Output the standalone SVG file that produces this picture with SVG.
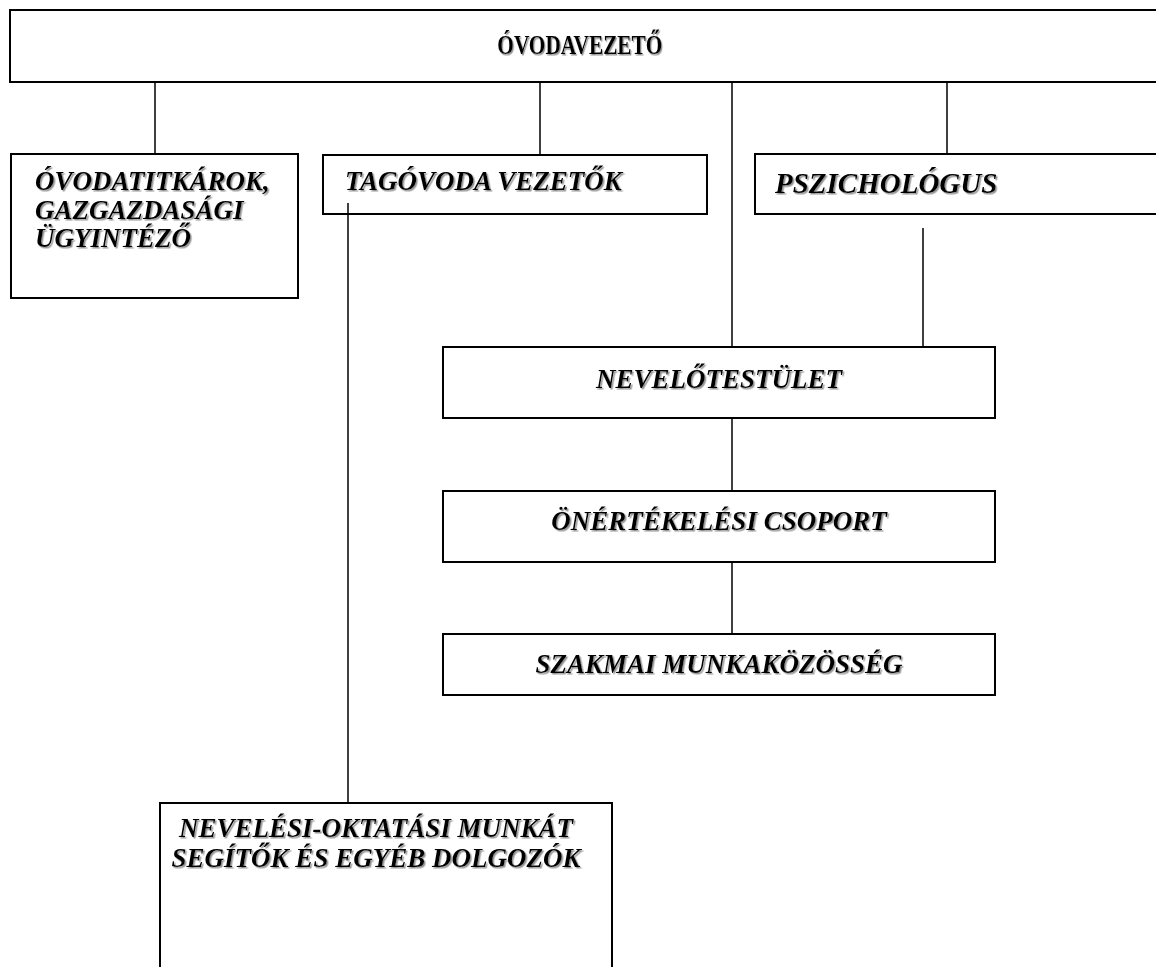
<svg xmlns="http://www.w3.org/2000/svg" width="1156" height="967" viewBox="0 0 1156 967">
<defs>
<filter id="sh" x="-5%" y="-20%" width="110%" height="150%">
<feDropShadow dx="1.5" dy="1.5" stdDeviation="0.6" flood-color="#888" flood-opacity="0.9"/>
</filter>
<style>
.box{fill:#fff;stroke:#000;stroke-width:2}
.ln{stroke:#000;stroke-width:1.5;fill:none}
.t{font-family:"Liberation Serif","Times New Roman",serif;font-weight:bold;font-style:italic;font-size:27px;fill:#000;filter:url(#sh)}
.c{text-anchor:middle}
</style>
</defs>
<rect width="1156" height="967" fill="#fff"/>
<g id="connectors">
<line class="ln" x1="155" y1="82" x2="155" y2="154"/>
<line class="ln" x1="540" y1="82" x2="540" y2="155"/>
<line class="ln" x1="732" y1="82" x2="732" y2="347"/>
<line class="ln" x1="947" y1="82" x2="947" y2="154"/>
<line class="ln" x1="348" y1="203" x2="348" y2="803"/>
<line class="ln" x1="923" y1="228" x2="923" y2="347"/>
<line class="ln" x1="732" y1="418" x2="732" y2="491"/>
<line class="ln" x1="732" y1="562" x2="732" y2="634"/>
</g>
<g id="ovodavezeto">
<rect class="box" x="10" y="10" width="1160" height="72"/>
<text class="t c" x="734" y="54" style="font-style:normal;font-size:27px" transform="scale(0.79,1)">ÓVODAVEZETŐ</text>
</g>
<g id="ovodatitkarok">
<rect class="box" x="11" y="154" width="287" height="144"/>
<text class="t" x="35" y="190">ÓVODATITKÁROK,</text>
<text class="t" x="35" y="219">GAZGAZDASÁGI</text>
<text class="t" x="35" y="247">ÜGYINTÉZŐ</text>
</g>
<g id="tagovoda">
<rect class="box" x="323" y="155" width="384" height="59"/>
<text class="t" x="345" y="190">TAGÓVODA VEZETŐK</text>
<line class="ln" x1="348" y1="203" x2="348" y2="214"/>
</g>
<g id="pszichologus">
<rect class="box" x="755" y="154" width="420" height="60"/>
<text class="t" x="775" y="193" style="font-size:29px">PSZICHOLÓGUS</text>
</g>
<g id="nevelotestulet">
<rect class="box" x="443" y="347" width="552" height="71"/>
<text class="t c" x="719" y="388">NEVELŐTESTÜLET</text>
</g>
<g id="onertekelesi">
<rect class="box" x="443" y="491" width="552" height="71"/>
<text class="t c" x="719" y="530">ÖNÉRTÉKELÉSI CSOPORT</text>
</g>
<g id="szakmai">
<rect class="box" x="443" y="634" width="552" height="61"/>
<text class="t c" x="719" y="673">SZAKMAI MUNKAKÖZÖSSÉG</text>
</g>
<g id="nevelesi">
<rect class="box" x="160" y="803" width="452" height="180"/>
<text class="t c" x="376" y="837">NEVELÉSI-OKTATÁSI MUNKÁT</text>
<text class="t c" x="376" y="867">SEGÍTŐK ÉS EGYÉB DOLGOZÓK</text>
</g>
</svg>
